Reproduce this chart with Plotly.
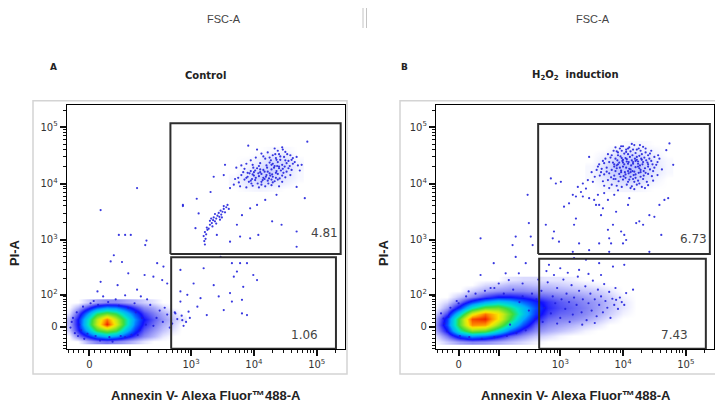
"""Annexin V / PI flow cytometry dot plots (Control vs H2O2)."""

import numpy as np
import plotly.graph_objects as go

# display units: 10^k sits at k, biexponential zero near 1.4
ZERO_X = 1.38
ZERO_Y = 1.465

# ---- density maps of the main (live) population, levels 0..5
left_core_x = [1.05, 1.2, 1.35, 1.5, 1.65, 1.8, 1.95, 2.1, 2.25, 2.4, 2.55, 2.7, 2.85]
left_core_y = [1.2, 1.3, 1.4, 1.5, 1.6, 1.7, 1.8, 1.9]
left_core_z = [
    [0, 0, 0.3, 0.5, 0.6, 0.5, 0.4, 0.25, 0.1, 0, 0, 0, 0],
    [0, 0.5, 1.0, 1.5, 1.8, 1.6, 1.2, 0.8, 0.5, 0.3, 0.1, 0, 0],
    [0.2, 0.9, 1.8, 2.8, 3.2, 2.9, 2.0, 1.2, 0.7, 0.45, 0.25, 0.1, 0],
    [0.3, 1.0, 2.3, 3.6, 5.0, 3.8, 2.6, 1.5, 0.9, 0.6, 0.35, 0.2, 0],
    [0.3, 1.0, 2.2, 3.5, 4.6, 3.6, 2.6, 1.6, 1.0, 0.7, 0.45, 0.25, 0.1],
    [0.1, 0.7, 1.6, 2.6, 3.0, 2.7, 2.0, 1.3, 0.8, 0.55, 0.35, 0.15, 0],
    [0, 0.3, 0.8, 1.3, 1.6, 1.5, 1.2, 0.8, 0.5, 0.35, 0.15, 0, 0],
    [0, 0, 0.2, 0.4, 0.5, 0.5, 0.4, 0.3, 0.2, 0.1, 0, 0, 0],
]

right_core_x = [1.0, 1.2, 1.4, 1.6, 1.8, 2.0, 2.2, 2.4, 2.6, 2.8, 3.0, 3.2, 3.4,
                3.6, 3.8, 4.0, 4.2, 4.4]
right_core_y = [1.2, 1.3, 1.4, 1.5, 1.6, 1.7, 1.8, 1.9, 2.0, 2.1, 2.2, 2.3]
right_core_z = [
    [0, 0.2, 0.4, 0.5, 0.45, 0.35, 0.25, 0.15, 0.05, 0, 0, 0, 0, 0, 0, 0, 0, 0],
    [0.1, 0.6, 1.3, 1.7, 1.5, 1.1, 0.7, 0.45, 0.25, 0.15, 0.05, 0, 0, 0, 0, 0, 0, 0],
    [0.3, 1.0, 2.4, 3.2, 3.0, 2.2, 1.4, 0.8, 0.5, 0.35, 0.25, 0.15, 0.05, 0, 0, 0, 0, 0],
    [0.4, 1.3, 3.0, 4.5, 4.4, 3.3, 2.2, 1.3, 0.7, 0.5, 0.4, 0.3, 0.2, 0.1, 0, 0, 0, 0],
    [0.3, 1.2, 3.0, 4.8, 5.0, 4.0, 2.8, 1.7, 1.0, 0.65, 0.55, 0.5, 0.4, 0.25, 0.1, 0, 0, 0],
    [0.15, 0.8, 2.2, 3.8, 4.6, 4.0, 3.0, 2.0, 1.2, 0.8, 0.65, 0.6, 0.5, 0.35, 0.2, 0.05, 0, 0],
    [0, 0.4, 1.2, 2.3, 3.0, 3.1, 2.6, 1.9, 1.3, 0.9, 0.75, 0.65, 0.55, 0.4, 0.25, 0.1, 0, 0],
    [0, 0.15, 0.6, 1.2, 1.7, 2.0, 1.8, 1.4, 1.1, 0.85, 0.7, 0.6, 0.5, 0.4, 0.25, 0.1, 0, 0],
    [0, 0, 0.25, 0.5, 0.8, 1.0, 1.0, 0.9, 0.75, 0.65, 0.55, 0.5, 0.4, 0.3, 0.2, 0.05, 0, 0],
    [0, 0, 0, 0.2, 0.35, 0.45, 0.5, 0.5, 0.45, 0.4, 0.35, 0.3, 0.25, 0.2, 0.1, 0, 0, 0],
    [0, 0, 0, 0, 0.15, 0.2, 0.3, 0.3, 0.25, 0.25, 0.2, 0.15, 0.1, 0.05, 0, 0, 0, 0],
    [0, 0, 0, 0, 0, 0, 0.1, 0.15, 0.15, 0.1, 0.1, 0.05, 0, 0, 0, 0, 0, 0],
]

# faint haze under the late apoptotic clusters
left_haze_x = [3.7, 3.9, 4.1, 4.3, 4.5, 4.7]
left_haze_y = [3.9, 4.0, 4.1, 4.2, 4.3, 4.4, 4.5, 4.6]
left_haze_z = [
    [0, 0.05, 0.08, 0.05, 0, 0],
    [0.05, 0.15, 0.2, 0.15, 0.08, 0],
    [0.05, 0.2, 0.3, 0.25, 0.15, 0.05],
    [0, 0.15, 0.28, 0.3, 0.2, 0.05],
    [0, 0.08, 0.2, 0.3, 0.25, 0.08],
    [0, 0.05, 0.12, 0.25, 0.22, 0.05],
    [0, 0, 0.05, 0.15, 0.15, 0],
    [0, 0, 0, 0.05, 0.05, 0],
]
right_haze_x = [3.5, 3.7, 3.9, 4.1, 4.3, 4.5, 4.7]
right_haze_y = [3.9, 4.0, 4.1, 4.2, 4.3, 4.4, 4.5, 4.6, 4.7]
right_haze_z = [
    [0, 0.05, 0.08, 0.08, 0.05, 0, 0],
    [0, 0.1, 0.18, 0.2, 0.15, 0.05, 0],
    [0.05, 0.15, 0.28, 0.32, 0.25, 0.1, 0],
    [0.05, 0.2, 0.35, 0.4, 0.32, 0.15, 0.05],
    [0.05, 0.2, 0.38, 0.42, 0.35, 0.18, 0.05],
    [0, 0.15, 0.32, 0.38, 0.3, 0.15, 0.05],
    [0, 0.08, 0.22, 0.28, 0.2, 0.1, 0],
    [0, 0, 0.1, 0.15, 0.1, 0.05, 0],
    [0, 0, 0, 0.05, 0.05, 0, 0],
]

# ---- individual events (Annexin V, PI) in display units
left_upper_events = [
    (4.33, 4.62), (4.05, 4.60), (4.45, 4.64), (3.91, 4.67), (4.85, 4.74),
    (4.22, 4.55), (4.40, 4.52), (4.50, 4.56), (4.58, 4.50), (4.30, 4.50), (4.12, 4.53), (4.62, 4.45),
    (4.35, 4.45), (4.42, 4.42), (4.48, 4.47), (4.27, 4.41), (4.18, 4.44), (4.55, 4.40), (4.03, 4.46),
    (4.65, 4.38), (4.38, 4.38), (4.30, 4.35), (4.45, 4.33), (4.52, 4.36), (4.20, 4.32), (4.10, 4.36),
    (4.40, 4.30), (4.57, 4.31), (3.98, 4.33), (4.33, 4.31), (4.25, 4.37), (4.70, 4.32), (3.88, 4.35),
    (4.28, 4.25), (4.36, 4.22), (4.46, 4.26), (4.15, 4.24), (4.05, 4.27), (3.95, 4.22), (4.52, 4.21),
    (4.40, 4.27), (4.22, 4.21), (3.85, 4.26), (4.60, 4.24), (4.10, 4.20), (4.32, 4.28), (4.00, 4.20),
    (4.20, 4.15), (4.30, 4.12), (4.38, 4.17), (4.08, 4.13), (3.98, 4.16), (3.90, 4.12), (4.45, 4.14),
    (4.15, 4.10), (4.25, 4.18), (4.50, 4.11), (3.80, 4.15), (4.03, 4.10), (4.35, 4.10), (4.12, 4.17),
    (3.93, 4.18), (4.58, 4.15), (4.22, 4.05), (4.12, 4.03), (4.02, 4.06), (3.92, 4.03), (4.30, 4.02),
    (4.38, 4.07), (3.85, 4.07), (4.17, 4.08), (4.06, 4.00), (3.97, 4.08), (3.76, 4.02), (4.28, 4.07),
    (4.45, 4.03), (3.70, 4.08), (4.18, 3.95), (4.08, 3.93), (3.98, 3.96), (3.88, 3.93), (4.28, 3.97),
    (3.78, 3.95), (3.68, 3.98), (3.62, 3.92), (4.40, 3.95), (4.68, 3.94), (4.76, 4.33),
    (3.88, 4.10), (3.95, 4.05), (4.00, 4.14), (4.07, 4.18), (4.14, 4.06), (4.19, 4.12),
    (4.24, 4.09), (4.10, 4.25), (4.02, 4.23), (3.90, 4.19), (4.17, 4.21), (4.26, 4.14),
    (3.96, 4.00), (4.12, 3.98), (4.23, 4.00), (4.33, 4.04), (4.41, 4.09), (4.47, 4.19),
    (4.35, 4.19), (4.29, 4.16), (4.43, 4.23), (4.49, 4.30), (4.37, 4.31), (4.28, 4.33),
    (4.55, 4.27), (4.62, 4.35), (4.50, 4.41), (4.42, 4.48), (4.34, 4.52), (4.38, 4.58),
    (4.46, 4.60), (4.53, 4.52), (4.60, 4.42), (4.25, 4.46), (4.36, 4.42), (4.21, 4.28),
    (4.08, 4.31), (3.99, 4.28), (3.83, 4.20), (3.75, 4.10), (3.80, 4.32), (3.95, 4.41),
    (4.15, 4.48), (4.68, 4.47), (4.73, 4.23), (3.72, 4.28),
    (3.36, 4.12), (3.52, 4.15), (3.54, 4.33), (3.31, 3.85), (4.81, 3.74), (4.36, 3.80),
    (4.18, 3.71), (4.05, 3.62), (3.94, 3.56), (3.81, 3.44), (3.73, 3.27), (3.78, 3.06),
    (3.94, 3.03), (4.07, 3.09), (4.29, 3.33), (4.44, 3.27), (4.68, 3.15), (4.68, 2.88),
    (3.62, 2.97), (3.41, 3.09), (2.87, 3.60), (3.09, 3.73), (3.12, 3.47), (3.07, 3.21),
    (3.22, 2.92), (3.21, 2.98), (3.23, 3.02), (3.20, 3.07), (3.24, 3.10), (3.22, 3.14),
    (3.26, 3.18), (3.25, 3.22), (3.28, 3.20), (3.30, 3.27), (3.33, 3.30), (3.30, 3.34),
    (3.35, 3.35), (3.38, 3.33), (3.36, 3.40), (3.40, 3.38), (3.42, 3.43), (3.38, 3.46),
    (3.45, 3.41), (3.44, 3.48), (3.48, 3.45), (3.47, 3.52), (3.50, 3.50), (3.52, 3.55),
    (3.54, 3.49), (3.56, 3.58), (3.52, 3.60), (3.58, 3.62), (3.60, 3.55), (3.34, 3.24),
    (3.40, 3.29), (3.32, 3.38), (3.46, 3.36), (3.49, 3.40),
]
left_other_events = [
    (1.56, 3.53), (2.14, 3.92), (1.85, 3.09), (1.95, 3.09), (2.04, 3.09), (2.29, 2.99),
    (2.87, 3.62), (2.27, 2.91), (1.77, 2.73), (1.72, 2.62), (1.90, 2.61), (2.46, 2.59),
    (2.56, 2.53), (2.00, 2.41), (2.26, 2.38), (2.40, 2.35), (1.56, 2.26), (1.51, 2.09),
    (1.83, 2.20), (2.14, 2.12), (2.54, 2.29), (2.62, 2.23), (2.83, 2.47),
    (3.04, 2.23), (3.20, 2.50), (3.36, 2.20), (3.44, 2.00), (3.65, 2.59), (3.73, 2.44),
    (3.78, 2.59), (3.89, 2.59), (3.99, 2.38), (4.05, 2.29), (3.68, 2.35), (3.83, 2.17),
    (3.62, 2.06), (3.81, 1.94), (3.65, 1.91), (3.89, 1.67), (3.81, 1.70), (3.52, 1.76),
    (3.10, 1.82), (3.15, 1.97), (3.25, 1.67), (2.94, 2.03), (2.83, 1.91), (2.96, 1.73),
    (2.86, 1.58), (2.75, 1.70), (2.83, 2.09), (3.47, 2.70),
    (2.45, 1.62), (2.55, 1.55), (2.62, 1.68), (2.70, 1.52), (2.78, 1.60), (2.85, 1.66),
    (2.92, 1.55), (2.50, 1.75), (2.66, 1.45), (2.40, 1.48), (2.58, 1.80), (2.74, 1.72),
    (2.35, 1.85), (2.88, 1.48), (2.98, 1.62), (2.30, 1.95), (2.20, 2.00), (2.10, 1.88),
    (1.95, 2.02), (1.80, 1.95), (1.60, 2.00), (1.45, 1.92), (1.25, 1.40), (1.10, 1.55),
    (1.15, 1.35), (1.30, 1.25), (1.55, 1.22), (1.75, 1.20), (1.95, 1.28), (2.15, 1.32),
    (1.12, 1.62), (1.18, 1.72), (1.22, 1.50), (1.28, 1.82), (1.40, 1.88), (1.52, 1.85),
    (1.68, 1.90), (1.85, 1.84), (2.00, 1.80), (2.12, 1.72), (2.22, 1.62), (2.28, 1.50),
    (2.18, 1.40), (2.05, 1.32), (1.88, 1.30), (1.70, 1.28), (1.48, 1.30), (1.35, 1.34),
    (1.20, 1.30), (1.08, 1.45),
]

right_upper_events = [
    (4.00, 4.66), (4.10, 4.64), (4.18, 4.68), (4.05, 4.60), (4.25, 4.62), (3.95, 4.62), (4.32, 4.65),
    (3.92, 4.55), (4.02, 4.53), (4.12, 4.57), (4.20, 4.54), (4.28, 4.58), (4.36, 4.55), (4.08, 4.52),
    (3.85, 4.58), (4.43, 4.53), (4.16, 4.60), (3.98, 4.58),
    (3.80, 4.46), (3.88, 4.44), (3.96, 4.48), (4.04, 4.45), (4.11, 4.47), (4.19, 4.44), (4.26, 4.49),
    (4.34, 4.46), (4.42, 4.44), (4.00, 4.42), (4.15, 4.50), (4.30, 4.42), (3.92, 4.50), (4.22, 4.42),
    (3.72, 4.44), (4.50, 4.47),
    (3.70, 4.36), (3.78, 4.38), (3.86, 4.34), (3.94, 4.37), (4.02, 4.34), (4.09, 4.38), (4.16, 4.35),
    (4.24, 4.39), (4.31, 4.34), (4.39, 4.37), (4.47, 4.34), (3.99, 4.40), (4.13, 4.32), (4.27, 4.32),
    (3.90, 4.32), (4.06, 4.39), (4.20, 4.40), (3.62, 4.34), (4.55, 4.38),
    (3.66, 4.26), (3.74, 4.28), (3.82, 4.24), (3.90, 4.27), (3.97, 4.23), (4.05, 4.28), (4.12, 4.25),
    (4.20, 4.29), (4.28, 4.24), (4.35, 4.27), (4.43, 4.25), (3.86, 4.30), (4.00, 4.30), (4.15, 4.22),
    (4.24, 4.30), (4.08, 4.22), (3.58, 4.24), (4.50, 4.28),
    (3.70, 4.16), (3.78, 4.18), (3.86, 4.14), (3.94, 4.17), (4.01, 4.13), (4.09, 4.18), (4.17, 4.15),
    (4.25, 4.19), (4.33, 4.14), (4.40, 4.17), (3.97, 4.20), (4.12, 4.12), (4.28, 4.20), (3.63, 4.14),
    (4.46, 4.13),
    (3.76, 4.06), (3.85, 4.08), (3.93, 4.04), (4.00, 4.07), (4.08, 4.03), (4.16, 4.08), (4.24, 4.05),
    (4.32, 4.08), (4.38, 4.03), (3.68, 4.04), (4.20, 4.10), (4.04, 4.10),
    (3.90, 3.96), (3.98, 3.94), (4.06, 3.98), (4.14, 3.95), (4.22, 3.98), (4.30, 3.94), (3.82, 3.98),
    (4.12, 3.92), (4.40, 3.97),
    (3.88, 4.22), (3.95, 4.28), (4.03, 4.20), (4.10, 4.26), (4.18, 4.21), (4.26, 4.27),
    (4.33, 4.22), (4.40, 4.30), (3.91, 4.41), (3.98, 4.45), (4.06, 4.43), (4.14, 4.41),
    (4.22, 4.47), (4.29, 4.44), (4.37, 4.41), (4.45, 4.40), (3.84, 4.37), (3.92, 4.34),
    (4.00, 4.37), (4.08, 4.35), (4.16, 4.38), (4.24, 4.35), (4.32, 4.38), (4.40, 4.34),
    (4.04, 4.16), (4.12, 4.20), (4.20, 4.16), (4.28, 4.12), (4.36, 4.19), (3.96, 4.12),
    (3.88, 4.08), (4.10, 4.07), (4.18, 4.03), (4.26, 4.00), (3.81, 4.11), (3.74, 4.21),
    (3.82, 4.50), (3.90, 4.57), (4.05, 4.56), (4.22, 4.60), (4.30, 4.52), (4.40, 4.50),
    (4.48, 4.22), (4.53, 4.33), (4.58, 4.44), (4.62, 4.25), (4.08, 4.62), (3.97, 4.66),
    (4.14, 4.70), (4.27, 4.68), (3.65, 4.20), (3.60, 4.30), (3.68, 4.40), (3.76, 4.52),
    (3.55, 4.12), (3.70, 3.96), (3.78, 3.92), (4.18, 3.90), (4.35, 3.92), (4.48, 4.05),
    (4.55, 4.15), (3.50, 4.20), (3.88, 4.64), (4.36, 4.62), (4.45, 4.58),
    (4.74, 4.71), (4.69, 4.59), (4.80, 4.33), (4.56, 4.50), (3.46, 4.47), (2.85, 4.09),
    (2.93, 4.00), (3.01, 4.03),
    (3.06, 3.59), (3.14, 3.65), (3.25, 3.77), (3.33, 3.85), (3.41, 3.91), (3.36, 3.77),
    (3.46, 3.74), (3.54, 3.71), (3.60, 3.80), (3.70, 3.83), (3.76, 3.71), (3.86, 3.80),
    (3.92, 3.88), (3.57, 3.62), (3.68, 3.56), (3.44, 4.06), (3.52, 4.03), (3.36, 4.00),
    (3.28, 3.94), (3.20, 3.80),
    (2.77, 3.27), (2.88, 3.03), (2.98, 2.97), (2.90, 3.15), (3.25, 3.38), (3.22, 3.27),
    (3.30, 2.94), (3.62, 2.94), (3.78, 3.03), (3.81, 2.94), (3.76, 3.18), (3.84, 3.27),
    (3.97, 3.15), (4.02, 3.09), (4.05, 3.00), (4.00, 2.94), (4.21, 3.30), (4.26, 3.33),
    (4.32, 3.27), (4.42, 3.44), (4.50, 3.41), (4.58, 3.62), (4.66, 3.71), (4.72, 3.74),
    (4.61, 3.09), (3.89, 3.50), (4.08, 3.62), (4.10, 3.74), (3.62, 3.62), (3.65, 3.44),
    (3.78, 2.79), (3.20, 2.79), (3.46, 2.82), (4.42, 2.79),
]
right_other_events = [
    (2.48, 3.80), (2.50, 3.30), (2.29, 3.06), (1.73, 3.03),
    (2.24, 2.91), (2.56, 2.91), (2.53, 3.06), (1.94, 2.59), (2.29, 2.70), (2.13, 2.41),
    (1.73, 2.38), (1.54, 2.09), (2.34, 2.41), (2.45, 2.59), (2.40, 2.23), (2.02, 2.23),
    (1.89, 2.15), (2.18, 2.29), (1.38, 1.88), (1.22, 1.64), (1.14, 1.61),
    (2.62, 1.95), (2.70, 2.10), (2.75, 1.80), (2.80, 2.25), (2.85, 1.70), (2.88, 2.00),
    (2.92, 1.88), (2.95, 2.15), (3.00, 1.62), (3.02, 1.95), (3.05, 2.30), (3.08, 1.78),
    (3.10, 2.05), (3.14, 1.90), (3.18, 2.20), (3.20, 1.68), (3.22, 1.98), (3.26, 1.85),
    (3.28, 2.35), (3.30, 2.10), (3.34, 1.72), (3.36, 1.95), (3.40, 2.18), (3.42, 1.58),
    (3.45, 1.88), (3.48, 2.05), (3.50, 1.75), (3.52, 2.28), (3.55, 1.95), (3.58, 1.65),
    (3.60, 2.12), (3.62, 1.85), (3.65, 2.00), (3.68, 1.72), (3.70, 2.22), (3.72, 1.92),
    (3.75, 1.80), (3.78, 2.08), (3.80, 1.62), (3.83, 1.96), (3.86, 1.85), (3.88, 2.15),
    (3.92, 1.78), (3.95, 1.98), (3.98, 1.90), (4.02, 1.85), (4.05, 2.06), (4.16, 2.12),
    (3.89, 1.94), (3.41, 2.65), (3.62, 2.59), (3.84, 2.53), (4.02, 2.56), (3.22, 2.68),
    (3.30, 2.47), (2.82, 2.56), (2.72, 1.55), (2.95, 1.52), (3.15, 1.55), (3.35, 1.50),
    (3.55, 1.53), (3.12, 2.42), (2.90, 2.38), (3.45, 2.40), (3.65, 2.38), (2.65, 2.30),
    (2.78, 2.45), (3.00, 2.50),
    (1.10, 1.70), (1.15, 1.52), (1.20, 1.38), (1.25, 1.80), (1.35, 1.92), (1.50, 2.00),
    (1.65, 2.05), (1.80, 2.10), (1.95, 2.15), (2.10, 2.05), (2.25, 2.12), (2.40, 2.00),
    (2.55, 2.05), (2.45, 1.40), (2.30, 1.35), (2.15, 1.30), (1.95, 1.28), (1.75, 1.25),
    (1.55, 1.28), (1.40, 1.30), (2.60, 1.60), (2.50, 1.75), (2.35, 1.90), (2.20, 1.50),
]

# ---- gates: (x0, x1, y0, y1) and their percentages
left_gates = [(2.671, 5.381, 2.752, 5.065), (2.683, 5.306, 1.076, 2.694)]
right_gates = [(2.648, 5.384, 2.752, 5.053), (2.664, 5.320, 1.076, 2.669)]
left_pct = ["4.81", "1.06"]
right_pct = ["6.73", "7.43"]
left_pct_pos = [(5.13, 3.12), (4.80, 1.32)]
right_pct_pos = [(5.13, 3.02), (4.82, 1.32)]

panel_titles = ["Control", "H<sub>2</sub>O<sub>2</sub>  induction"]
panel_letters = ["A", "B"]

DENSITY_SCALE = [
    [0.0, "rgba(0,0,255,0)"],
    [0.1, "rgba(20,20,235,0.5)"],
    [0.2, "rgba(0,0,255,0.95)"],
    [0.34, "rgb(0,170,255)"],
    [0.46, "rgb(0,230,200)"],
    [0.56, "rgb(60,220,60)"],
    [0.72, "rgb(200,235,20)"],
    [0.8, "rgb(250,230,0)"],
    [0.9, "rgb(255,140,0)"],
    [1.0, "rgb(240,30,0)"],
]
HAZE_SCALE = [[0.0, "rgba(70,90,255,0)"], [1.0, "rgba(70,90,255,0.9)"]]
DOT = "rgba(30,30,220,0.88)"
FONT = "DejaVu Sans"

# page body keeps its 8px margin: place everything in reference pixels minus 8
W, H, OFF = 715, 396, 8


def pxx(px):
    return (px - OFF) / W


def pxy(py):
    return 1 - (py - OFF) / H


def biex(v, zero):
    c = 2 * 10 ** zero
    return zero + np.arcsinh(np.asarray(v, dtype=float) / c) / np.log(10)


x_minor_vals = [-40, -30, -20, -10] + list(range(10, 100, 10)) + \
    [m * 10 ** k for k in (2, 3, 4) for m in range(2, 10)] + [2e5]
y_minor_vals = [-60, -50, -40, -30, -20, -10] + list(range(10, 100, 10)) + \
    [m * 10 ** k for k in (2, 3, 4) for m in range(2, 10)] + [2e5]
x_major_vals = [0, 1e2, 1e3, 1e4, 1e5]
x_major_text = ["0", "", "10<sup>3</sup>", "10<sup>4</sup>", "10<sup>5</sup>"]
y_major_vals = [0, 1e2, 1e3, 1e4, 1e5]
y_major_text = ["0", "10<sup>2</sup>", "10<sup>3</sup>", "10<sup>4</sup>", "10<sup>5</sup>"]

fig = go.Figure()

panels = [
    ("x", "y", (left_core_x, left_core_y, left_core_z),
     (left_haze_x, left_haze_y, left_haze_z),
     left_upper_events + left_other_events, left_gates, left_pct, left_pct_pos),
    ("x2", "y2", (right_core_x, right_core_y, right_core_z),
     (right_haze_x, right_haze_y, right_haze_z),
     right_upper_events + right_other_events, right_gates, right_pct, right_pct_pos),
]

for xa, ya, core, haze, events, gates, pct, pct_pos in panels:
    fig.add_trace(go.Heatmap(
        x=haze[0], y=haze[1], z=haze[2], zmin=0, zmax=1, zsmooth="best",
        colorscale=HAZE_SCALE, showscale=False, hoverinfo="skip",
        xaxis=xa, yaxis=ya,
    ))
    fig.add_trace(go.Heatmap(
        x=core[0], y=core[1], z=core[2], zmin=0, zmax=5, zsmooth="best",
        colorscale=DENSITY_SCALE, showscale=False, hoverinfo="skip",
        xaxis=xa, yaxis=ya,
    ))
    ex, ey = zip(*events)
    fig.add_trace(go.Scatter(
        x=ex, y=ey, mode="markers", xaxis=xa, yaxis=ya,
        marker=dict(size=2.2, color=DOT, line=dict(width=0)),
        hoverinfo="skip",
    ))
    for x0, x1, y0, y1 in gates:
        fig.add_trace(go.Scatter(
            x=[x0, x1, x1, x0, x0], y=[y0, y0, y1, y1, y0], mode="lines",
            line=dict(color="#2e2e2e", width=2), xaxis=xa, yaxis=ya,
            hoverinfo="skip",
        ))
    for txt, (tx, ty) in zip(pct, pct_pos):
        fig.add_annotation(
            x=tx, y=ty, xref=xa, yref=ya, text=txt, showarrow=False,
            xanchor="center", yanchor="middle",
            font=dict(family=FONT, size=12, color="#444"),
        )

axis_common = dict(
    showgrid=False, zeroline=False, showline=True, linecolor="black",
    linewidth=1.2, mirror=True, ticks="outside", ticklen=6, tickwidth=1.5,
    tickcolor="#111", tickfont=dict(family=FONT, size=10, color="#333"),
)
xdomains = [[pxx(66.7), pxx(345)], [pxx(436), pxx(714)]]
ydomain = [pxy(349), pxy(105)]
for i, suffix in enumerate(["", "2"]):
    fig.update_layout(**{
        "xaxis" + suffix: dict(
            axis_common, domain=xdomains[i], range=[1.02, 5.45],
            anchor="y" + suffix, tickmode="array",
            tickvals=list(biex(x_major_vals, ZERO_X)), ticktext=x_major_text,
            minor=dict(tickvals=list(biex(x_minor_vals, ZERO_X)), ticks="outside",
                       ticklen=3, tickwidth=1.2, tickcolor="#111"),
        ),
        "yaxis" + suffix: dict(
            axis_common, domain=ydomain, range=[1.07, 5.39],
            anchor="x" + suffix, tickmode="array",
            tickvals=list(biex(y_major_vals, ZERO_Y)), ticktext=y_major_text,
            minor=dict(tickvals=list(biex(y_minor_vals, ZERO_Y)), ticks="outside",
                       ticklen=3, tickwidth=1.2, tickcolor="#111"),
        ),
    })

# outer light frames and the strip of the previous figure at the top
frames = [(33, 347), (400, 719)]
for fx0, fx1 in frames:
    fig.add_shape(type="rect", xref="paper", yref="paper",
                  x0=pxx(fx0), x1=pxx(fx1), y0=pxy(374), y1=pxy(100.7),
                  line=dict(color="#d4d4d4", width=1.5))
for lx in (363, 366.5):
    fig.add_shape(type="line", xref="paper", yref="paper",
                  x0=pxx(lx), x1=pxx(lx), y0=pxy(28), y1=1,
                  line=dict(color="#c4c4c4", width=1))

centers = [205.7, 575.7]
letters_x = [53, 404]
pia_x = [14, 383]
fsc_x = [224, 593]
for i in range(2):
    common = dict(xref="paper", yref="paper", showarrow=False,
                  xanchor="center", yanchor="middle")
    fig.add_annotation(x=pxx(centers[i]), y=pxy(75.7),
                       text="<b>" + panel_titles[i] + "</b>",
                       font=dict(family=FONT, size=10, color="#222"), **common)
    fig.add_annotation(x=pxx(letters_x[i]), y=pxy(66.7),
                       text="<b>" + panel_letters[i] + "</b>",
                       font=dict(family=FONT, size=9, color="#222"), **common)
    fig.add_annotation(x=pxx(pia_x[i]), y=pxy(253), text="<b>PI-A</b>", textangle=-90,
                       font=dict(family="Liberation Sans", size=13, color="#222"), **common)
    fig.add_annotation(x=pxx(centers[i]), y=pxy(395.5),
                       text="<b>Annexin V- Alexa Fluor™488-A</b>",
                       font=dict(family="Liberation Sans", size=13, color="#222"), **common)
    fig.add_annotation(x=pxx(fsc_x[i]), y=pxy(19), text="FSC-A",
                       font=dict(family="Liberation Sans", size=11, color="#444"), **common)

fig.update_layout(
    width=W, height=H, margin=dict(l=0, r=0, t=0, b=0),
    paper_bgcolor="white", plot_bgcolor="white", showlegend=False,
)

fig.write_html("out.html")
